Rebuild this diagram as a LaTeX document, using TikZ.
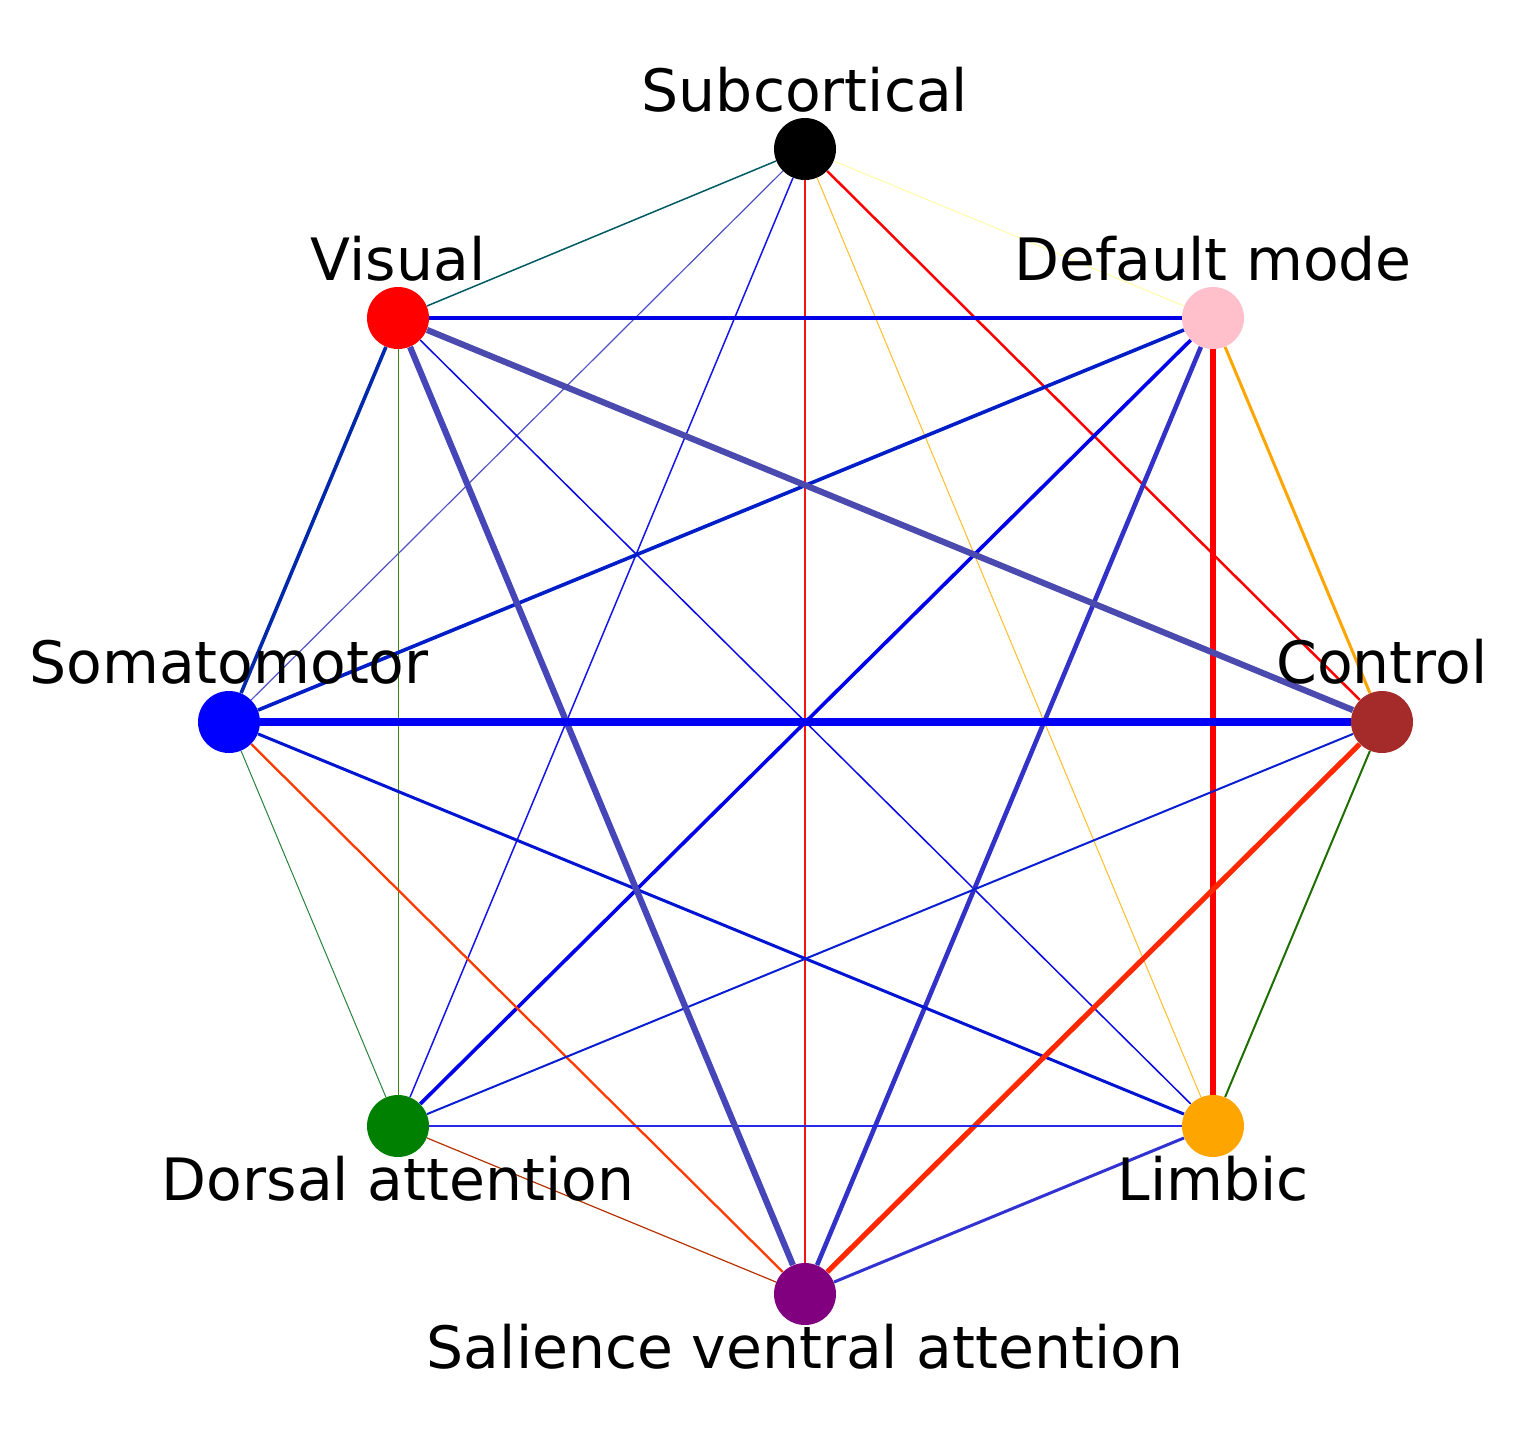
\documentclass[tikz,border=0pt]{standalone}
\usepackage{fontspec}
\setmainfont{DejaVu Sans}
\begin{document}
\begin{tikzpicture}[x=0.5pt,y=-0.5pt,
  netnode/.style={circle,inner sep=0pt,minimum size=31pt},
  lbl/.style={anchor=base,inner sep=0pt,font=\fontsize{29.2}{35}\selectfont},
  edge/.style={line width=#1*0.5pt}]
\useasboundingbox (0,0) rectangle (1533,1446);
\definecolor{cSub}{RGB}{0,0,0}
\definecolor{cVis}{RGB}{255,0,0}
\definecolor{cDef}{RGB}{255,192,203}
\definecolor{cCon}{RGB}{165,42,42}
\definecolor{cLim}{RGB}{255,165,0}
\definecolor{cSal}{RGB}{128,0,128}
\definecolor{cDor}{RGB}{0,128,0}
\definecolor{cSom}{RGB}{0,0,255}
% nodes
\node[netnode,fill=cSub] (sub) at (805,149) {};
\node[netnode,fill=cVis] (vis) at (398,318) {};
\node[netnode,fill=cDef] (def) at (1213,318) {};
\node[netnode,fill=cSom] (som) at (229,722) {};
\node[netnode,fill=cCon] (con) at (1382,722) {};
\node[netnode,fill=cDor] (dor) at (398,1126) {};
\node[netnode,fill=cLim] (lim) at (1213,1126) {};
\node[netnode,fill=cSal] (sal) at (805,1294) {};
% edges
\definecolor{e1}{RGB}{0,90,100}
\definecolor{e2}{RGB}{80,80,200}
\definecolor{e3}{RGB}{20,20,240}
\definecolor{e4}{RGB}{245,20,20}
\definecolor{e5}{RGB}{255,190,40}
\definecolor{e6}{RGB}{255,0,0}
\definecolor{e7}{RGB}{255,255,150}
\definecolor{e8}{RGB}{0,0,230}
\definecolor{e9}{RGB}{75,75,175}
\definecolor{e10}{RGB}{10,10,230}
\definecolor{e11}{RGB}{70,70,185}
\definecolor{e12}{RGB}{60,130,20}
\definecolor{e13}{RGB}{0,40,170}
\definecolor{e14}{RGB}{0,30,200}
\definecolor{e15}{RGB}{0,0,235}
\definecolor{e16}{RGB}{50,50,200}
\definecolor{e17}{RGB}{255,0,0}
\definecolor{e18}{RGB}{255,165,0}
\definecolor{e19}{RGB}{0,0,245}
\definecolor{e20}{RGB}{0,20,210}
\definecolor{e21}{RGB}{255,60,0}
\definecolor{e22}{RGB}{40,130,60}
\definecolor{e23}{RGB}{10,30,210}
\definecolor{e24}{RGB}{255,40,0}
\definecolor{e25}{RGB}{30,110,0}
\definecolor{e26}{RGB}{40,40,235}
\definecolor{e27}{RGB}{180,50,0}
\definecolor{e28}{RGB}{50,50,210}
\draw[edge=1.5,e1] (sub) -- (vis);
\draw[edge=1.2,e2] (sub) -- (som);
\draw[edge=1.5,e3] (sub) -- (dor);
\draw[edge=1.4,e4] (sub) -- (sal);
\draw[edge=1.0,e5] (sub) -- (lim);
\draw[edge=2.5,e6] (sub) -- (con);
\draw[edge=0.8,e7] (sub) -- (def);
\draw[edge=3.6,e8] (vis) -- (def);
\draw[edge=1.5,e10] (vis) -- (lim);
\draw[edge=1.0,e12] (vis) -- (dor);
\draw[edge=3.6,e13] (vis) -- (som);
\draw[edge=3.6,e14] (def) -- (som);
\draw[edge=3.6,e15] (def) -- (dor);
\draw[edge=4.6,e16] (def) -- (sal);
\draw[edge=5.2,e17] (def) -- (lim);
\draw[edge=3,e18] (def) -- (con);
\draw[edge=3,e20] (som) -- (lim);
\draw[edge=2.3,e21] (som) -- (sal);
\draw[edge=1.0,e22] (som) -- (dor);
\draw[edge=2,e23] (con) -- (dor);
\draw[edge=5.2,e24] (con) -- (sal);
\draw[edge=2,e25] (con) -- (lim);
\draw[edge=1.5,e26] (dor) -- (lim);
\draw[edge=1.2,e27] (dor) -- (sal);
\draw[edge=3,e28] (lim) -- (sal);
\draw[edge=6.2,e9] (vis) -- (con);
\draw[edge=6.2,e11] (vis) -- (sal);
\draw[edge=8.2,e19] (som) -- (con);
% labels
\node[lbl] (lsub) at (805,111) {Subcortical};
\node[lbl] (lvis) at (398,280) {Visual};
\node[lbl] (ldef) at (1213,280) {Default mode};
\node[lbl] (lsom) at (229,683) {Somatomotor};
\node[lbl] (lcon) at (1382,683) {Control};
\node[lbl] (ldor) at (398,1200) {Dorsal attention};
\node[lbl] (llim) at (1213,1200) {Limbic};
\node[lbl] (lsal) at (805,1368) {Salience ventral attention};
\end{tikzpicture}
\end{document}
